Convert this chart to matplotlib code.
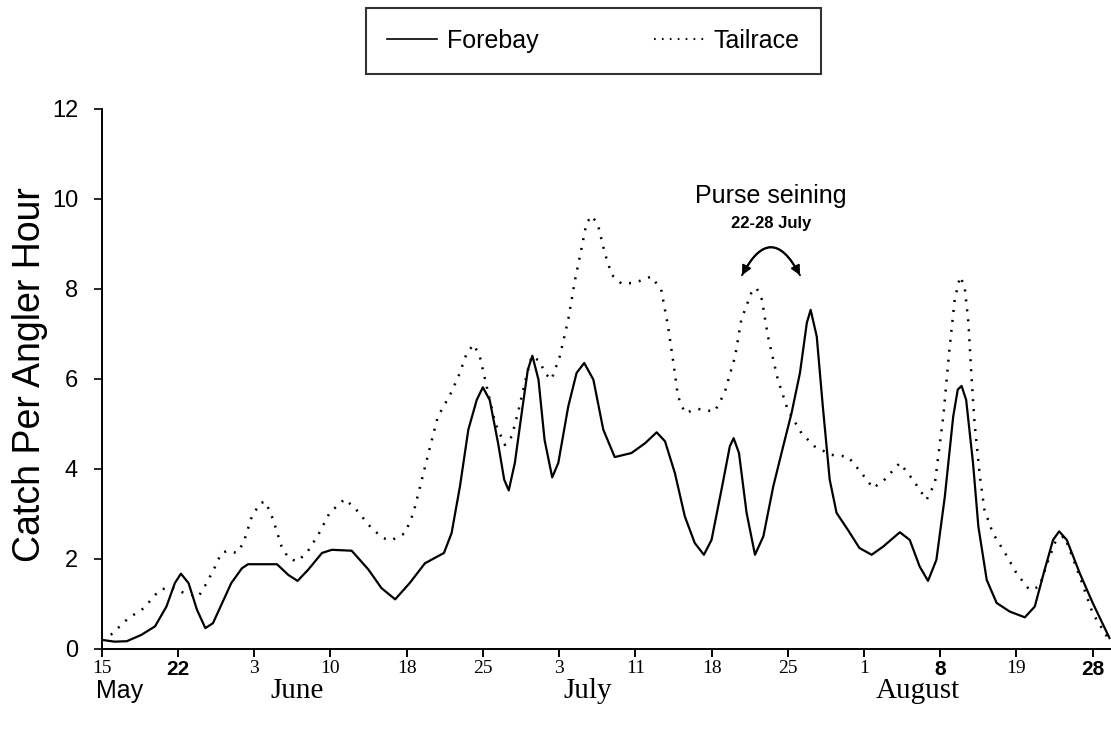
"""
Catch per angler hour, forebay vs tailrace, mid-May to end of August.
"""

import matplotlib

matplotlib.use("Agg")
import matplotlib.pyplot as plt
from matplotlib.lines import Line2D

# sampling periods, evenly spaced on the x axis (tick index)
tick_labels = ["15", "22", "3", "10", "18", "25", "3", "11", "18", "25", "1", "8", "19", "28"]
bold_ticks = ["22", "8", "28"]
months = ["May", "June", "July", "August"]

# Forebay (solid): x in tick-index units, y in catch/hour
forebay_x = [0.00, 0.17, 0.33, 0.52, 0.70, 0.85, 0.96, 1.04, 1.14, 1.25, 1.36, 1.46, 1.70, 1.84,
             1.92, 2.30, 2.45, 2.57, 2.71, 2.89, 3.02, 3.28, 3.50, 3.67, 3.85, 4.04, 4.24, 4.37,
             4.49, 4.59, 4.70, 4.81, 4.92, 5.00, 5.09, 5.20, 5.28, 5.34, 5.42, 5.51, 5.59, 5.65,
             5.73, 5.81, 5.91, 5.99, 6.12, 6.23, 6.33, 6.45, 6.58, 6.73, 6.95, 7.13, 7.28, 7.39,
             7.52, 7.65, 7.78, 7.90, 8.00, 8.13, 8.24, 8.29, 8.36, 8.46, 8.57, 8.68, 8.81, 8.94,
             9.05, 9.16, 9.25, 9.30, 9.38, 9.46, 9.55, 9.64, 9.79, 9.94, 10.10, 10.25, 10.47,
             10.60, 10.73, 10.84, 10.95, 11.06, 11.17, 11.23, 11.28, 11.34, 11.43, 11.50, 11.61,
             11.74, 11.91, 12.11, 12.24, 12.37, 12.48, 12.56, 12.66, 12.83, 13.00, 13.22]
forebay_y = [0.20, 0.16, 0.17, 0.31, 0.50, 0.94, 1.46, 1.67, 1.46, 0.87, 0.46, 0.57, 1.46, 1.79,
             1.88, 1.88, 1.64, 1.51, 1.76, 2.13, 2.20, 2.18, 1.76, 1.35, 1.10, 1.46, 1.90, 2.02,
             2.13, 2.57, 3.61, 4.87, 5.53, 5.81, 5.53, 4.57, 3.76, 3.52, 4.13, 5.24, 6.20, 6.51,
             5.98, 4.64, 3.81, 4.13, 5.38, 6.13, 6.35, 5.98, 4.87, 4.26, 4.35, 4.57, 4.81, 4.61,
             3.90, 2.94, 2.35, 2.09, 2.42, 3.53, 4.50, 4.68, 4.35, 3.02, 2.09, 2.50, 3.61, 4.50,
             5.24, 6.13, 7.24, 7.53, 6.94, 5.38, 3.76, 3.02, 2.64, 2.24, 2.09, 2.27, 2.59,
             2.42, 1.83, 1.51, 1.98, 3.38, 5.16, 5.76, 5.84, 5.53, 4.13, 2.72, 1.53,
             1.02, 0.83, 0.70, 0.94, 1.76, 2.42, 2.61, 2.42, 1.68, 1.02, 0.24]

# Tailrace (dotted)
tailrace_x = [0.12, 0.20, 0.35, 0.55, 0.76, 0.90, 1.07, 1.27, 1.38, 1.49, 1.57, 1.66, 1.77, 1.86,
              1.97, 2.08, 2.15, 2.25, 2.36, 2.45, 2.56, 2.69, 2.84, 2.99, 3.19, 3.34, 3.54, 3.69,
              3.80, 3.98, 4.09, 4.20, 4.31, 4.41, 4.57, 4.68, 4.79, 4.88, 4.96, 5.03, 5.16, 5.29,
              5.38, 5.47, 5.55, 5.64, 5.75, 5.81, 5.90, 6.01, 6.12, 6.21, 6.30, 6.36, 6.43, 6.51,
              6.60, 6.69, 6.82, 6.99, 7.21, 7.34, 7.43, 7.50, 7.56, 7.65, 7.82, 8.04, 8.17, 8.31,
              8.39, 8.52, 8.59, 8.66, 8.74, 8.87, 9.00, 9.18, 9.35, 9.57, 9.79, 9.97, 10.12,
              10.27, 10.47, 10.64, 10.82, 10.93, 11.04, 11.12, 11.19, 11.26, 11.32, 11.37, 11.41,
              11.45, 11.52, 11.58, 11.69, 11.85, 12.00, 12.17, 12.30, 12.42, 12.52, 12.63, 12.83,
              13.00, 13.20]
tailrace_y = [0.31, 0.44, 0.68, 0.90, 1.31, 1.37, 1.25, 1.16, 1.47, 1.83, 2.13, 2.18, 2.13, 2.35,
              2.94, 3.24, 3.27, 2.87, 2.27, 2.02, 1.94, 2.13, 2.53, 3.02, 3.33, 3.09, 2.68, 2.46,
              2.41, 2.57, 3.02, 3.76, 4.50, 5.16, 5.64, 6.05, 6.57, 6.76, 6.50, 5.98, 5.02, 4.53,
              4.72, 5.31, 5.90, 6.50, 6.39, 6.13, 5.98, 6.50, 7.31, 8.20, 8.94, 9.46, 9.62, 9.42,
              8.79, 8.31, 8.11, 8.13, 8.27, 7.98, 7.16, 6.35, 5.61, 5.24, 5.33, 5.27, 5.68, 6.50,
              7.31, 7.90, 8.02, 7.76, 6.94, 5.98, 5.31, 4.79, 4.50, 4.31, 4.27, 3.90, 3.57,
              3.76, 4.13, 3.76, 3.31, 3.68, 5.16, 6.64, 7.76, 8.27, 8.05, 7.24, 6.05,
              5.02, 3.83, 3.09, 2.57, 2.13, 1.68, 1.31, 1.38, 1.98, 2.42, 2.50, 1.61,
              0.79, 0.24]

# purse seining window 22-28 July, in tick-index units
seine_start = 8.40
seine_end = 9.16
seine_level = 8.3

plt.rcParams["font.family"] = ["Liberation Sans", "DejaVu Sans"]

fig = plt.figure(figsize=(11.11, 7.34), dpi=100)
ax = fig.add_axes([0.0915, 0.116, 0.9085, 0.736])

ax.plot(forebay_x, forebay_y, color="black", linewidth=1.6, label="Forebay",
        solid_joinstyle="round")
ax.plot(tailrace_x, tailrace_y, color="black", linewidth=1.8, linestyle=(0, (0.8, 3.2)),
        label="Tailrace")

ax.set_xlim(0, 13.24)
ax.set_ylim(0, 12)
ax.spines["top"].set_visible(False)
ax.spines["right"].set_visible(False)
ax.spines["left"].set_linewidth(1.4)
ax.spines["bottom"].set_linewidth(1.4)

ax.set_yticks(range(0, 13, 2))
ax.tick_params(axis="y", direction="out", length=6, width=1.2, labelsize=17, pad=11)
ax.set_xticks(range(len(tick_labels)))
ax.set_xticklabels(tick_labels)
ax.tick_params(axis="x", direction="out", length=6, width=1.4, pad=2)
for lab in ax.get_xticklabels():
    if lab.get_text() in bold_ticks:
        lab.set_fontfamily("Liberation Sans")
        lab.set_fontweight("bold")
        lab.set_fontsize(15)
    else:
        lab.set_fontfamily("Liberation Serif")
        lab.set_fontsize(14)

ax.set_ylabel("Catch Per Angler Hour", fontsize=27)
ax.yaxis.set_label_coords(-0.053, 0.507)

# month names under the day ticks
month_pos = [0.24, 2.57, 6.38, 10.71]
for name, xpos in zip(months, month_pos):
    if name == "May":
        fam, size = "Liberation Sans", 18
    else:
        fam, size = "Liberation Serif", 21
    ax.text(xpos, -0.078, name, transform=ax.get_xaxis_transform(), ha="center", va="center",
            fontsize=size, family=fam)

# purse seining note with curved double arrow
ax.text((seine_start + seine_end) / 2, 10.05, "Purse seining", ha="center", va="center", fontsize=18)
ax.text((seine_start + seine_end) / 2, 9.45, "22-28 July", ha="center", va="center", fontsize=12,
        fontweight="bold")
ax.annotate("", xy=(seine_end, seine_level), xytext=(seine_start, seine_level),
            arrowprops=dict(arrowstyle="-|>,head_length=0.55,head_width=0.28", color="black",
                            lw=1.4, shrinkA=0, shrinkB=0, connectionstyle="arc3,rad=-0.95"))
ax.annotate("", xy=(seine_start, seine_level), xytext=(seine_end, seine_level),
            arrowprops=dict(arrowstyle="-|>,head_length=0.55,head_width=0.28", color="black",
                            lw=1.4, shrinkA=0, shrinkB=0, connectionstyle="arc3,rad=0.95"))

handles = [Line2D([], [], color="black", linewidth=1.2),
           Line2D([], [], color="black", linewidth=1.5, linestyle=(0, (0.8, 3.0)))]
leg = fig.legend(handles, ["Forebay", "Tailrace"], loc="center", bbox_to_anchor=(0.534, 0.944),
                 ncol=2, fontsize=18, frameon=True, fancybox=False, edgecolor="black",
                 handlelength=2.0, handletextpad=0.4, columnspacing=4.6, borderpad=0.85)
leg.get_frame().set_linewidth(1.5)

fig.savefig("out.png", dpi=100)
